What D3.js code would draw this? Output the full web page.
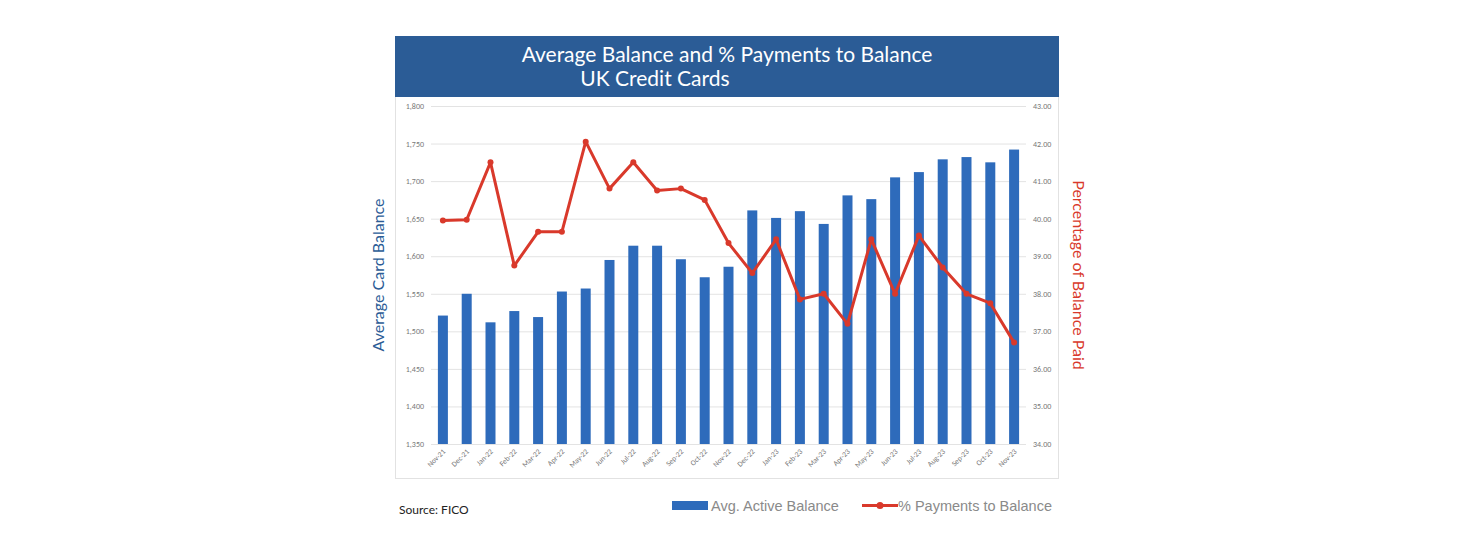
<!DOCTYPE html>
<html>
<head>
<meta charset="utf-8">
<script src="https://cdn.jsdelivr.net/npm/d3@7"></script>
<style>body{margin:0;background:#fff}</style>
</head>
<body>
<div id="chart"></div>
<script>
const months = ['Nov-21','Dec-21','Jan-22','Feb-22','Mar-22','Apr-22','May-22','Jun-22','Jul-22','Aug-22','Sep-22','Oct-22','Nov-22','Dec-22','Jan-23','Feb-23','Mar-23','Apr-23','May-23','Jun-23','Jul-23','Aug-23','Sep-23','Oct-23','Nov-23']
const balances = [1521,1550,1512,1527,1519,1553,1557,1595,1614,1614,1596,1572,1586,1661,1651,1660,1643,1681,1676,1705,1712,1729,1732,1725,1742]
const paymentPct = [39.95,39.97,41.5,38.75,39.65,39.65,42.05,40.8,41.5,40.75,40.8,40.5,39.35,38.55,39.45,37.85,38.0,37.2,39.45,38.0,39.55,38.7,38.0,37.75,36.7]
const leftTicks = d3.range(1350, 1801, 50)
const rightTicks = d3.range(34, 43.01, 1)

const W = 1458, H = 550
const plot = { left: 431, right: 1026, top: 106, bottom: 444 }
const svg = d3.select('#chart').append('svg').attr('width', W).attr('height', H)
  .style('font-family', 'Calibri, Carlito, "Liberation Sans", sans-serif')

// frame and title banner
svg.append('rect').attr('x', 395.5).attr('y', 36.5).attr('width', 663).attr('height', 442)
  .attr('fill', '#fff').attr('stroke', '#e2e2e2')
svg.append('rect').attr('x', 395).attr('y', 36).attr('width', 664).attr('height', 61).attr('fill', '#2b5c96')
svg.append('text').attr('x', 727).attr('y', 62).attr('text-anchor', 'middle').attr('fill', '#fff')
  .attr('font-size', 21).style('font-family', 'Lato, "Open Sans", sans-serif').text('Average Balance and % Payments to Balance')
svg.append('text').attr('x', 655).attr('y', 86).attr('text-anchor', 'middle').attr('fill', '#fff')
  .attr('font-size', 21).style('font-family', 'Lato, "Open Sans", sans-serif').text('UK Credit Cards')

const x = d3.scaleBand().domain(months).range([plot.left, plot.right]).paddingInner(0.58).paddingOuter(0.29)
const y = d3.scaleLinear().domain([1350, 1800]).range([plot.bottom, plot.top])
const y2 = d3.scaleLinear().domain([34, 43]).range([plot.bottom, plot.top])

// gridlines
svg.append('g').selectAll('line').data(leftTicks).join('line')
  .attr('x1', plot.left).attr('x2', plot.right)
  .attr('y1', d => y(d) + 0.5).attr('y2', d => y(d) + 0.5)
  .attr('stroke', '#e3e3e3')

svg.append('g').selectAll('text').data(leftTicks).join('text')
  .attr('x', plot.left - 7).attr('y', d => y(d) + 3).attr('text-anchor', 'end')
  .attr('font-size', 8).attr('fill', '#777').text(d3.format(','))

svg.append('g').selectAll('text').data(rightTicks).join('text')
  .attr('x', plot.right + 7).attr('y', d => y2(d) + 3)
  .attr('font-size', 8).attr('fill', '#777').text(d3.format('.2f'))

svg.append('g').selectAll('rect').data(balances).join('rect')
  .attr('x', (d, i) => x(months[i])).attr('width', x.bandwidth())
  .attr('y', d => y(d)).attr('height', d => plot.bottom - y(d))
  .attr('fill', '#2e6bbb')

svg.append('g').selectAll('text').data(months).join('text')
  .attr('transform', d => `translate(${x(d) + x.bandwidth() / 2 + 3},${plot.bottom + 8}) rotate(-45)`)
  .attr('text-anchor', 'end').attr('font-size', 7.5).attr('fill', '#777').text(d => d)

const line = d3.line()
  .x((d, i) => x(months[i]) + x.bandwidth() / 2)
  .y(d => y2(d))
svg.append('path').datum(paymentPct).attr('d', line)
  .attr('fill', 'none').attr('stroke', '#d9392b').attr('stroke-width', 3).attr('stroke-linejoin', 'round')
svg.append('g').selectAll('circle').data(paymentPct).join('circle')
  .attr('cx', (d, i) => x(months[i]) + x.bandwidth() / 2).attr('cy', d => y2(d)).attr('r', 3)
  .attr('fill', '#d9392b')

// axis titles
svg.append('text').attr('transform', 'translate(384,275) rotate(-90)').attr('text-anchor', 'middle')
  .attr('font-size', 16).attr('fill', '#2b5c96').style('font-family', 'Lato, sans-serif').text('Average Card Balance')
svg.append('text').attr('transform', 'translate(1073,275) rotate(90)').attr('text-anchor', 'middle')
  .attr('font-size', 16).attr('fill', '#d9392b').style('font-family', 'Lato, sans-serif').text('Percentage of Balance Paid')

// legend
svg.append('rect').attr('x', 672).attr('y', 501).attr('width', 36).attr('height', 9).attr('fill', '#2e6bbb')
svg.append('text').attr('x', 711).attr('y', 511).attr('font-size', 14.5).attr('fill', '#8a8a8a')
  .style('font-family', '"Liberation Sans", sans-serif').text('Avg. Active Balance')
svg.append('line').attr('x1', 862).attr('x2', 898).attr('y1', 505.5).attr('y2', 505.5)
  .attr('stroke', '#d9392b').attr('stroke-width', 3)
svg.append('circle').attr('cx', 880).attr('cy', 505.5).attr('r', 3.5).attr('fill', '#d9392b')
svg.append('text').attr('x', 898).attr('y', 511).attr('font-size', 14.5).attr('fill', '#8a8a8a')
  .style('font-family', '"Liberation Sans", sans-serif').text('% Payments to Balance')

svg.append('text').attr('x', 399).attr('y', 514).attr('font-size', 12).attr('fill', '#222')
  .style('font-family', 'Lato, sans-serif').text('Source: FICO')
</script>
</body>
</html>
